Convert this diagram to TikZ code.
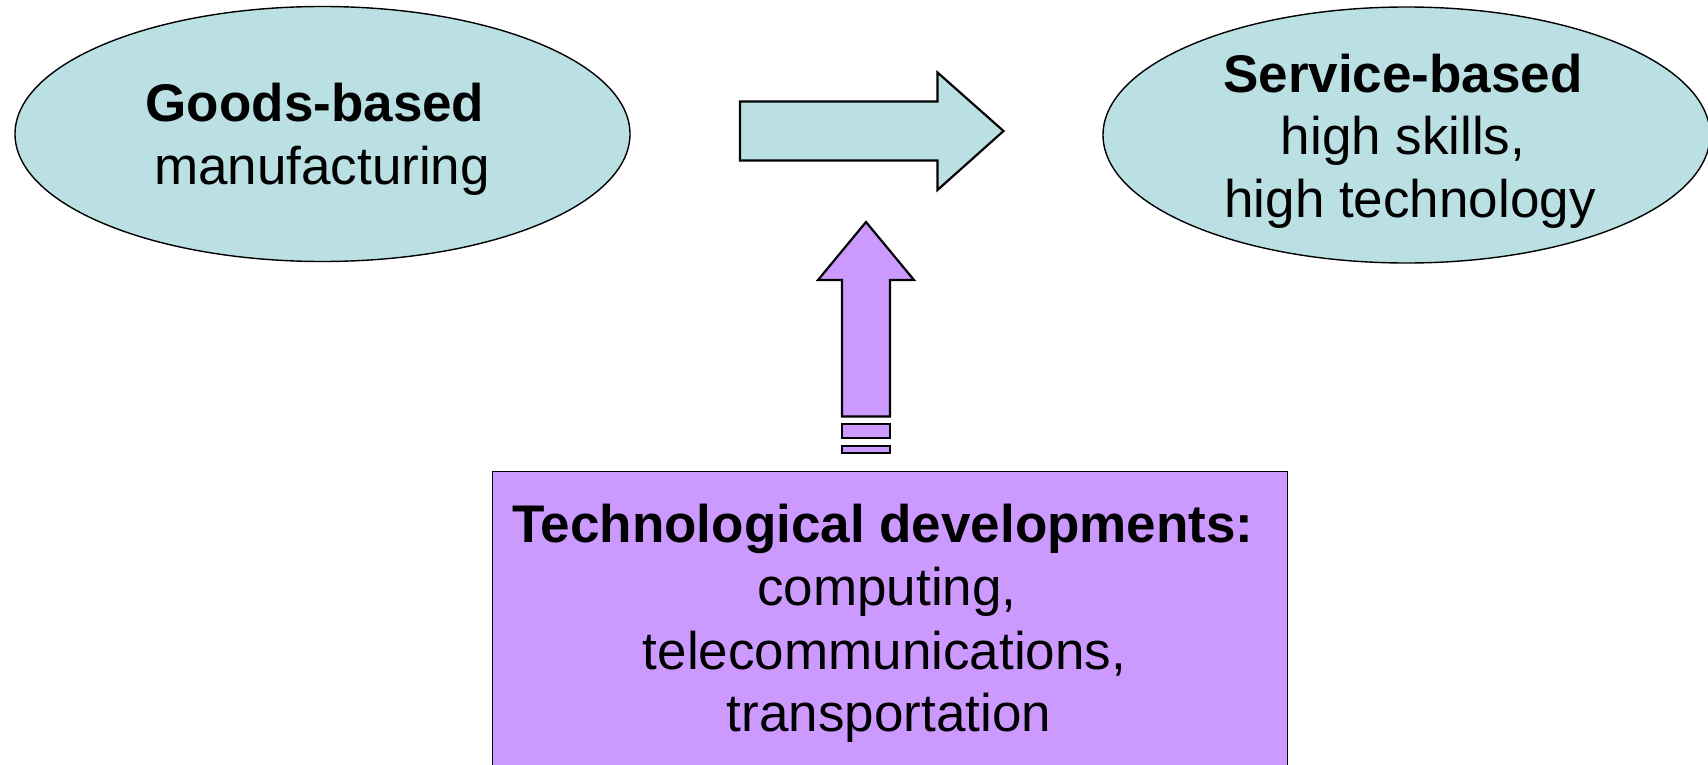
\documentclass[tikz,border=0pt]{standalone}
\usepackage{fontspec}
\setmainfont{Liberation Sans}
\usetikzlibrary{shapes.geometric}
\definecolor{paleteal}{RGB}{187,224,227}
\definecolor{lilac}{RGB}{204,153,255}
\begin{document}
\begin{tikzpicture}[x=1pt,y=-1pt,
  oval/.style={ellipse,draw=black,line width=1.4pt,fill=paleteal,inner sep=0pt},
  txt/.style={anchor=base,inner sep=0pt,font=\fontsize{53}{63}\selectfont},
  btxt/.style={anchor=base,inner sep=0pt,font=\fontsize{53}{63}\selectfont\bfseries},
  blockarrow/.style={draw=black,line width=2.2pt,line join=miter}]
\useasboundingbox (0,0) rectangle (1708,765);
\clip (0,0) rectangle (1708,765);
% ellipses
\node[oval,minimum width=615pt,minimum height=255pt] (goods) at (322.5,134) {};
\node[oval,minimum width=607pt,minimum height=256pt] (service) at (1406.5,135) {};
% box
\node[draw=black,line width=1.8pt,fill=lilac,minimum width=795pt,minimum height=340pt,anchor=north,inner sep=0pt] (tech) at (890,470.5) {};
% right arrow
\coordinate (ra) at (740,131);
\filldraw[blockarrow,fill=paleteal] (ra) ++(0,-29.5) -- ++(197.5,0) -- ++(0,-29) -- (1003.5,131) -- (937.5,190) -- (937.5,160.5) -- (740,160.5) -- cycle;
% up arrow
\coordinate (ua) at (866,222);
\filldraw[blockarrow,fill=lilac] (ua) -- (914,280) -- (890,280) -- (890,416.5) -- (842,416.5) -- (842,280) -- (818,280) -- cycle;
\filldraw[blockarrow,fill=lilac] (842,424) rectangle (890,438);
\filldraw[blockarrow,fill=lilac] (842,446) rectangle (890,453);
% texts
\node[btxt] (g1) at (315,122) {Goods-based};
\node[txt] (g2) at (322,184) {manufacturing};
\node[btxt] (s1) at (1403,93) {Service-based};
\node[txt] (s2) at (1403,155) {high skills,};
\node[txt] (s3) at (1410,217) {high technology};
\node[btxt] (t1) at (883,542) {Technological developments:};
\node[txt] (t2) at (887,605) {computing,};
\node[txt] (t3) at (884.5,669) {telecommunications,};
\node[txt] (t4) at (889,731.5) {transportation};
\end{tikzpicture}
\end{document}
